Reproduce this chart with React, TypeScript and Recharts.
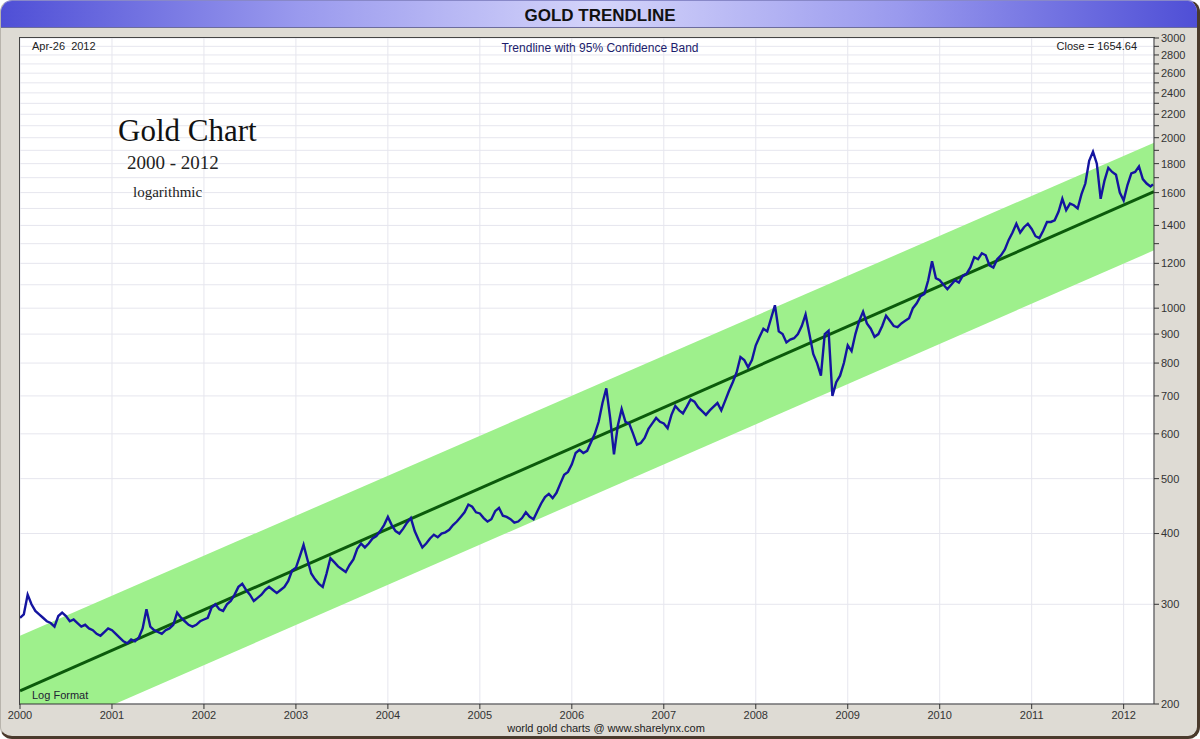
import React from 'react';
import { ComposedChart, Area, Line, XAxis, YAxis, CartesianGrid } from 'recharts';

// semi-monthly gold prices (USD/oz)
const gold2000 = [284, 288, 312, 300, 292, 288, 284, 280, 278, 274, 286, 290, 286, 280, 282, 278, 274, 276, 272, 270, 266, 264, 268, 272];
const gold2001 = [270, 266, 262, 258, 256, 260, 258, 262, 272, 294, 274, 270, 268, 266, 270, 272, 276, 290, 284, 280, 276, 274, 276, 280];
const gold2002 = [282, 284, 296, 300, 294, 292, 300, 304, 312, 322, 326, 318, 312, 304, 308, 312, 318, 322, 318, 314, 318, 322, 330, 344];
const gold2003 = [348, 364, 382, 360, 340, 332, 326, 322, 340, 362, 356, 350, 346, 342, 352, 360, 376, 384, 378, 384, 392, 396, 404, 414];
const gold2004 = [428, 414, 404, 400, 408, 418, 426, 404, 390, 378, 384, 392, 398, 394, 400, 402, 406, 414, 420, 428, 436, 450, 446, 436];
const gold2005 = [434, 426, 420, 424, 438, 444, 430, 428, 424, 418, 420, 426, 436, 428, 424, 438, 452, 464, 470, 462, 472, 490, 508, 514];
const gold2006 = [530, 555, 562, 555, 560, 580, 600, 630, 680, 722, 640, 552, 620, 664, 630, 625, 600, 574, 578, 590, 612, 626, 640, 630];
const gold2007 = [626, 614, 648, 672, 660, 652, 670, 690, 684, 668, 658, 648, 660, 670, 680, 660, 686, 714, 740, 770, 820, 810, 786, 810];
const gold2008 = [860, 890, 920, 910, 960, 1012, 910, 900, 870, 880, 885, 900, 930, 975, 900, 830, 800, 760, 900, 912, 700, 740, 760, 800];
const gold2009 = [860, 840, 900, 950, 986, 940, 920, 890, 900, 930, 970, 950, 930, 926, 940, 950, 960, 1000, 1020, 1050, 1060, 1120, 1210, 1130];
const gold2010 = [1120, 1100, 1080, 1100, 1120, 1110, 1140, 1150, 1180, 1230, 1220, 1250, 1240, 1190, 1180, 1220, 1240, 1270, 1320, 1360, 1410, 1360, 1390, 1410];
const gold2011 = [1380, 1340, 1330, 1370, 1420, 1420, 1430, 1480, 1560, 1490, 1530, 1520, 1500, 1590, 1660, 1820, 1890, 1800, 1560, 1680, 1770, 1740, 1720, 1600];
const gold2012 = [1550, 1650, 1730, 1740, 1780, 1690, 1660, 1640];
const goldYears = [gold2000, gold2001, gold2002, gold2003, gold2004, gold2005, gold2006, gold2007, gold2008, gold2009, gold2010, gold2011, gold2012];
const CLOSE_DATE = 2012.32;
const CLOSE_PRICE = 1654.64;

// regression trendline with 95% band (end points)
const trendYears = [2000, 2012.33];
const trendValues = [211, 1606];
const bandUpper = [264, 1960];
const bandLower = [169, 1265];

const yearTicks = [2000, 2001, 2002, 2003, 2004, 2005, 2006, 2007, 2008, 2009, 2010, 2011, 2012];
const priceTicks = [200, 300, 400, 500, 600, 700, 800, 900, 1000, 1100, 1200, 1300, 1400, 1500, 1600, 1700, 1800, 1900, 2000, 2100, 2200, 2300, 2400, 2500, 2600, 2700, 2800, 2900, 3000];
const unlabeledTicks = [1100, 1300, 1500, 1700, 1900, 2100, 2300, 2500, 2700, 2900];

const goldData: { t: number; price: number }[] = [];
goldYears.forEach((arr, yi) => {
  arr.forEach((p, k) => goldData.push({ t: 2000 + yi + k / 24, price: p }));
});
goldData.push({ t: CLOSE_DATE, price: CLOSE_PRICE });

const trendData = trendYears.map((t, i) => ({ t, trend: trendValues[i] }));
const bandData = trendYears.map((t, i) => ({ t, band: [bandLower[i], bandUpper[i]] }));

const FONT = '"Liberation Sans", Arial, sans-serif';
const SERIF = '"Liberation Serif", "DejaVu Serif", serif';

export default function App() {
  return (
    <div style={{ position: 'absolute', left: 0, top: 0, width: 1200, height: 739, background: '#fff', overflow: 'hidden' }}>
      {/* frame */}
      <div
        style={{
          position: 'absolute',
          left: 0,
          top: 0,
          width: 1196,
          height: 735,
          borderRadius: 12,
          background: '#dedbd4',
          borderLeft: '1px solid #b8b4ac',
          borderTop: '1px solid #8888c8',
          borderRight: '3px solid #4a3a2c',
          borderBottom: '3px solid #4a3a2c',
          overflow: 'hidden',
        }}
      >
        <div
          style={{
            height: 26,
            background: 'linear-gradient(to right, #4f4fd6 0%, #9a9aee 25%, #d4d4fa 50%, #9a9aee 75%, #4f4fd6 100%)',
            borderBottom: '1px solid #6c6c9c',
          }}
        />
      </div>

      <div style={{ position: 'absolute', left: 0, top: 0 }}>
        <ComposedChart width={1200} height={739} margin={{ top: 38, left: 20, right: 0, bottom: 0 }}>
          <CartesianGrid stroke="#e6e6ee" fill="#ffffff" />
          <XAxis
            dataKey="t"
            type="number"
            domain={[2000, 2012.33]}
            ticks={yearTicks}
            allowDataOverflow
            height={35}
            tickSize={5}
            tickLine={{ stroke: '#333' }}
            axisLine={{ stroke: '#333' }}
            tick={{ fontSize: 11, fill: '#333', fontFamily: FONT }}
          />
          <YAxis
            orientation="right"
            type="number"
            scale="log"
            domain={[200, 3000]}
            ticks={priceTicks}
            allowDataOverflow
            width={46}
            tickSize={5}
            interval={0}
            tickLine={{ stroke: '#333' }}
            axisLine={{ stroke: '#333' }}
            tickFormatter={(v: number) => (unlabeledTicks.includes(v) ? '' : String(v))}
            tick={{ fontSize: 11, fill: '#333', fontFamily: FONT }}
          />
          <Area
            data={bandData}
            dataKey="band"
            stroke="none"
            fill="#9ef08c"
            fillOpacity={1}
            isAnimationActive={false}
          />
          <Line
            data={trendData}
            dataKey="trend"
            stroke="#0b5a0b"
            strokeWidth={3}
            dot={false}
            isAnimationActive={false}
          />
          <Line
            data={goldData}
            dataKey="price"
            stroke="#1414a0"
            strokeWidth={2.4}
            dot={false}
            isAnimationActive={false}
          />
        </ComposedChart>
      </div>

      {/* plot border */}
      <div style={{ position: 'absolute', left: 19, top: 37, width: 1135, height: 667, borderLeft: '1px solid #444', borderTop: '1px solid #444', pointerEvents: 'none' }} />

      <svg width={1200} height={739} style={{ position: 'absolute', left: 0, top: 0, pointerEvents: 'none' }}>
        <text x={600} y={21} textAnchor="middle" fontFamily={FONT} fontWeight="bold" fontSize={17} fill="#111">
          GOLD TRENDLINE
        </text>
        <text x={32} y={50} fontFamily={FONT} fontSize={11} fill="#222" style={{ whiteSpace: 'pre' }}>Apr-26  2012</text>
        <text x={600} y={52} textAnchor="middle" fontFamily={FONT} fontSize={12} fill="#1c1c6c">
          Trendline with 95% Confidence Band
        </text>
        <text x={1137} y={50} textAnchor="end" fontFamily={FONT} fontSize={11} fill="#222">Close = 1654.64</text>
        <text x={32} y={699} fontFamily={FONT} fontSize={11} fill="#223">Log Format</text>
        <text x={606} y={732} textAnchor="middle" fontFamily={FONT} fontSize={11} fill="#222">
          world gold charts @ www.sharelynx.com
        </text>
        <text x={118} y={141} fontFamily={SERIF} fontSize={31} fill="#111">Gold Chart</text>
        <text x={127} y={169} fontFamily={SERIF} fontSize={19} fill="#222">2000 - 2012</text>
        <text x={133} y={197} fontFamily={SERIF} fontSize={15} fill="#222">logarithmic</text>
      </svg>
    </div>
  );
}
